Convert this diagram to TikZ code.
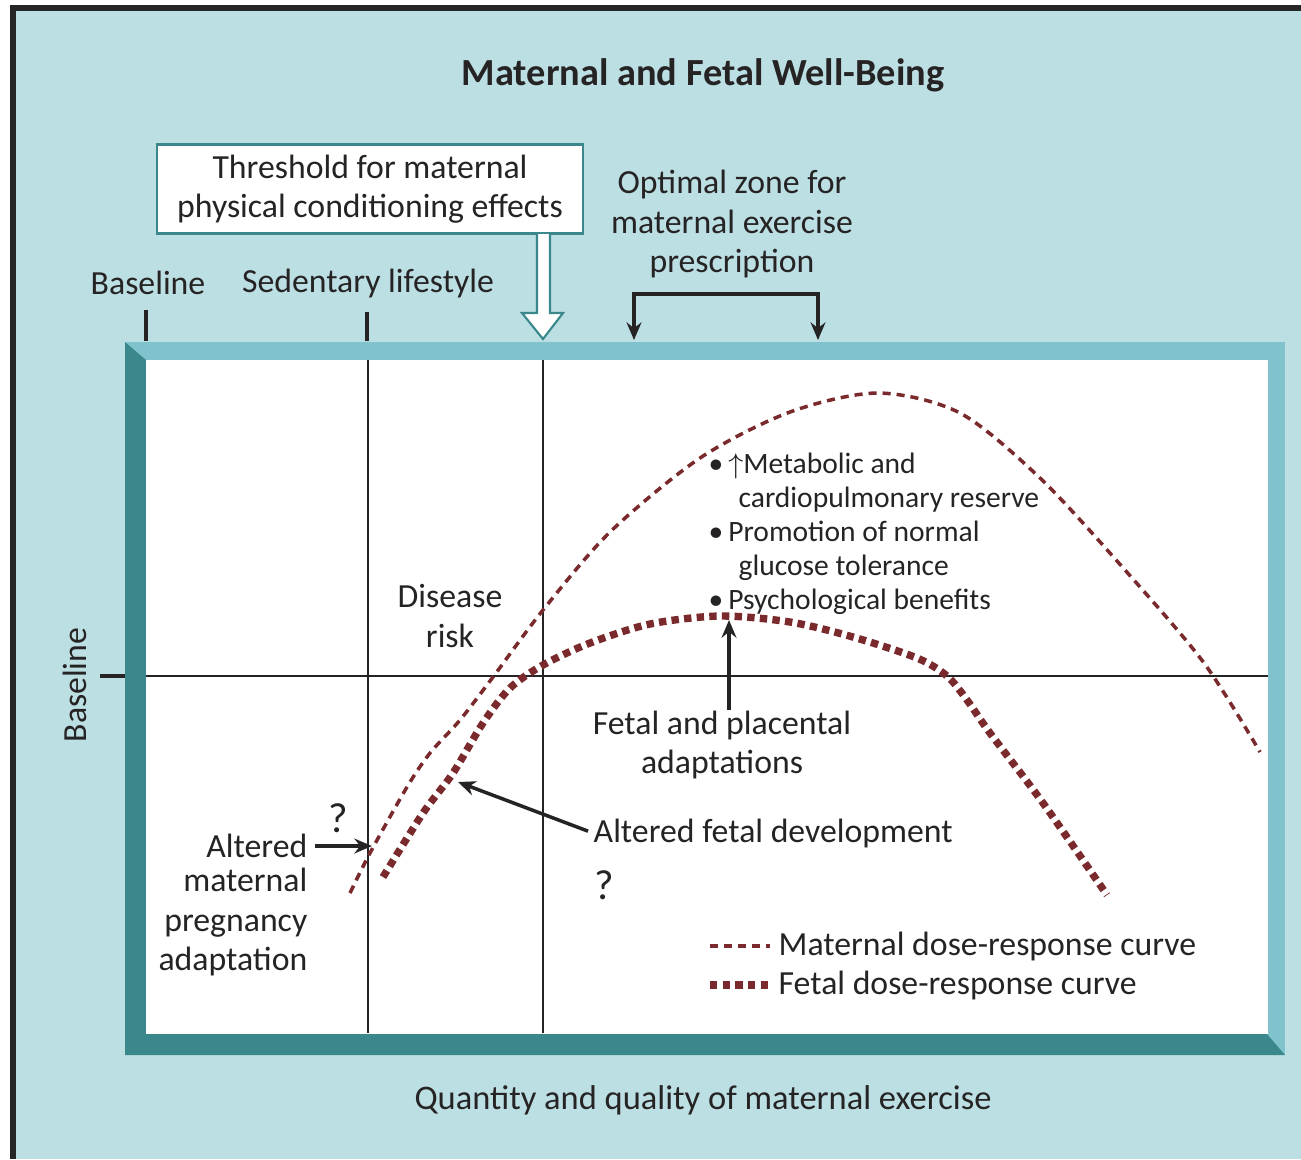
\documentclass[tikz,border=0pt]{standalone}
\usepackage{fontspec}
\setmainfont{Carlito}
\usetikzlibrary{arrows.meta}
\definecolor{bgblue}{HTML}{BCDFE3}
\definecolor{lightteal}{HTML}{80C3CC}
\definecolor{darkteal}{HTML}{3A888B}
\definecolor{curvered}{HTML}{7A2A2C}
\definecolor{ink}{HTML}{262324}
\tikzstyle{lbl}=[text=ink, font=\fontsize{9.6}{11.2}\selectfont, inner sep=0pt, align=center]
\tikzstyle{small}=[text=ink, font=\fontsize{8.4}{9.7}\selectfont, inner sep=0pt, align=left]
\tikzstyle{qmark}=[text=ink, font=\fontsize{12}{12}\selectfont, inner sep=0pt]
\tikzstyle{tick}=[ink, line width=1.1pt]
\tikzstyle{axis}=[ink, line width=0.6pt]
\tikzstyle{arr}=[ink, line width=1pt, -{Stealth[length=5pt,width=4.2pt]}]
\tikzstyle{matcurve}=[curvered, line width=1pt, dash pattern=on 2.3pt off 1.7pt]
\tikzstyle{fetcurve}=[curvered, line width=2.1pt, dash pattern=on 2.1pt off 1.5pt]

\begin{document}
\begin{tikzpicture}[x=0.01cm, y=-0.01cm]
	\useasboundingbox (0,0) rectangle (1301,1159);
	\fill[white] (0,0) rectangle (1301,1159);
	\fill[bgblue] (10,6) rectangle (1301,1159);
	\draw[black!85, line width=1.5pt] (13,1159) -- (13,8) -- (1301,8);
	% bevelled frame
	\fill[lightteal] (125,342) rectangle (1285,1055);
	\fill[darkteal] (125,342) -- (146,360) -- (146,1034) -- (1267,1034) -- (1285,1055) -- (125,1055) -- cycle;
	\fill[white] (146,360) rectangle (1268,1034);
	\draw[axis] (368,360) -- (368,1033);
	\draw[axis] (543,360) -- (543,1033);
	\draw[axis] (146,676) -- (1268,676);
	\draw[tick] (100,676) -- (125,676);

	% curves
	\draw[matcurve] plot[smooth, tension=0.5] coordinates {(350,893) (370,853) (407,787) (430,753) (460,720) (493,677) (543,610) (610,532) (700,458) (790,412) (878,393) (960,413) (1040,478) (1125,570) (1204,663) (1260,752)};
	\draw[fetcurve] plot[smooth, tension=0.5] coordinates {(383,877) (423,813) (453,773) (483,723) (510,688) (543,665) (590,643) (650,624) (720,616) (790,622) (853,637) (917,658) (947,676) (967,700) (990,733) (1043,803) (1107,895)};

	% top labels
	\node[lbl, font=\bfseries\fontsize{10.9}{12}\selectfont] (title) at (703,75) {Maternal and Fetal Well-Being};
	\node[lbl, draw=darkteal, fill=white, line width=0.6pt, minimum width=4.26cm, minimum height=0.89cm] (thr) at (370,189) {Threshold for maternal\\physical conditioning effects};
	\draw[darkteal, fill=white, line width=0.6pt] (537,234) -- (537,313) -- (522,313) -- (543,339) -- (563,313) -- (550,313) -- (550,234);
	\node[lbl] (zone) at (732,224) {Optimal zone for\\maternal exercise\\prescription};
	\coordinate (zl) at (634,340);
	\coordinate (zr) at (818,340);
	\draw[ink, line width=1.1pt, {Stealth[length=5pt,width=4.2pt]}-{Stealth[length=5pt,width=4.2pt]}] (zl) -- ++(0,-46) -| (zr);
	\node[lbl] (base) at (148,283) {Baseline};
	\node[lbl] (sed) at (368,283) {Sedentary lifestyle};
	\draw[tick] ([yshift=-4pt]base.south -| 146,0) -- (146,341);
	\draw[tick] ([yshift=-4pt]sed.south -| 367,0) -- (367,341);
	\node[lbl, rotate=90] (ybase) at (75,685) {Baseline};

	% labels inside
	\node[lbl] (risk) at (450,616) {Disease\\risk};
	\node[small, anchor=north west] (benef) at (708,452) {\textbullet\,$\uparrow$Metabolic and\\\hspace*{8.5pt}cardiopulmonary reserve\\\textbullet\,Promotion of normal\\\hspace*{8.5pt}glucose tolerance\\\textbullet\,Psychological benefits};
	\node[lbl] (fpa) at (722,745) {Fetal and placental\\adaptations};
	\coordinate (fpk) at (729,620);
	\draw[arr] (fpa.north -| fpk) -- (fpk);
	\node[lbl, anchor=west] (afd) at (593,833) {Altered fetal development};
	\coordinate (fdev) at (458,782);
	\draw[arr, shorten <=1.5pt] (afd.west) -- (fdev);
	\node[qmark] (q2) at (604,885) {?};
	\node[lbl, anchor=east] (alt) at (308,846) {Altered};
	\node[lbl, anchor=east, align=right] (amp) at (308,922) {maternal\\pregnancy\\adaptation};
	\coordinate (mpt) at (372,846);
	\draw[arr, shorten <=2pt] (alt.east) -- (mpt);
	\node[qmark] (q1) at (338,818) {?};

	% legend
	\node[lbl, anchor=west] (legm) at (778,946) {Maternal dose-response curve};
	\node[lbl, anchor=west] (legf) at (778,985) {Fetal dose-response curve};
	\draw[matcurve] ([shift={(-68,0)}]legm.west) -- ([shift={(-8,0)}]legm.west);
	\draw[fetcurve] ([shift={(-68,0)}]legf.west) -- ([shift={(-8,0)}]legf.west);

	\node[lbl, font=\fontsize{9.8}{11.2}\selectfont] (xlab) at (703,1100) {Quantity and quality of maternal exercise};
\end{tikzpicture}
\end{document}
